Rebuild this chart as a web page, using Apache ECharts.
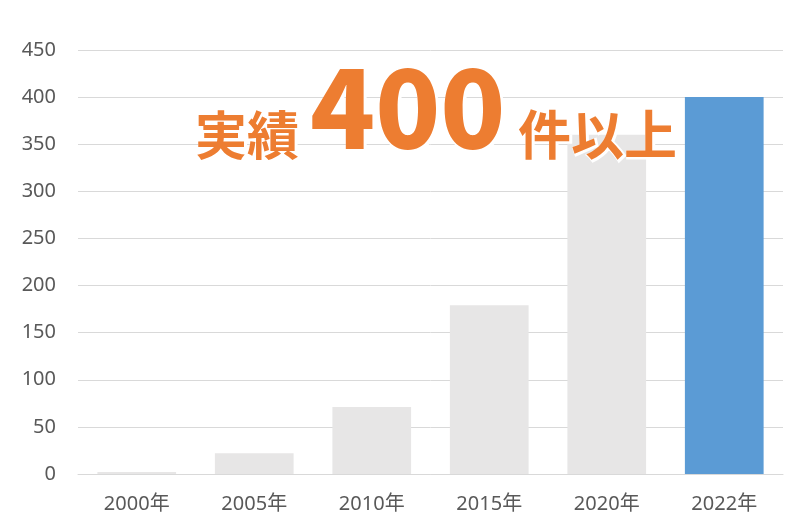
<!DOCTYPE html>
<html lang="ja">

<head>
    <meta charset="UTF-8">
    <title>実績</title>
    <script src="https://cdn.jsdelivr.net/npm/echarts@6/dist/echarts.min.js"></script>
</head>

<body style="margin:0;background-color:#ffffff;">
    <div id="main" style="position:absolute;left:0;top:0;width:800px;height:527px"></div>

    <script>
        // data
        var years = ['2000年', '2005年', '2010年', '2015年', '2020年', '2022年'];
        var counts = [2, 22, 71, 179, 360, 400];
        var yTicks = [0, 450, 50]; // min, max, interval

        var grey = '#e7e6e6';
        var blue = '#5b9bd5';
        var orange = '#ed7d31';

        var myCharts = echarts.init(document.getElementById('main'));
        var font = '"Noto Sans CJK JP", "Noto Sans", sans-serif';
        var labelFont = '"Noto Sans", "Noto Sans CJK JP", sans-serif';

        // headline: thin white halo underneath, orange text on top
        var headline = [
            { text: '実績', left: 195, top: 109, font: 'bold 52px ' + font },
            { text: '400', left: 310, top: 55, font: '900 107px ' + font },
            { text: '件以上', left: 518, top: 108, font: 'bold 53px ' + font }
        ];
        var graphics = [];
        headline.forEach(function (h) {
            graphics.push({
                type: 'text', left: h.left, top: h.top, z: 10,
                style: { text: h.text, font: h.font, fill: '#fff', stroke: '#fff', lineWidth: 3 }
            });
            graphics.push({
                type: 'text', left: h.left, top: h.top, z: 11,
                style: { text: h.text, font: h.font, fill: orange }
            });
        });

        myCharts.setOption({
            animation: false,
            grid: {
                left: 78,
                right: 17,
                top: 50,
                bottom: 53
            },
            xAxis: {
                type: 'category',
                data: years,
                axisLine: { lineStyle: { color: '#d9d9d9' } },
                axisTick: { show: false },
                axisLabel: { color: '#595959', fontSize: 20, fontFamily: labelFont, margin: 20 }
            },
            yAxis: {
                type: 'value',
                min: yTicks[0],
                max: yTicks[1],
                interval: yTicks[2],
                axisLine: { show: false },
                axisTick: { show: false },
                splitLine: { lineStyle: { color: '#d9d9d9' } },
                axisLabel: { color: '#595959', fontSize: 20, fontFamily: labelFont, margin: 22 }
            },
            series: [{
                type: 'bar',
                barCategoryGap: '33%',
                data: counts.map(function (v, i) {
                    return {
                        value: v,
                        itemStyle: { color: i === counts.length - 1 ? blue : grey }
                    };
                })
            }],
            graphic: graphics
        });
    </script>
</body>

</html>
